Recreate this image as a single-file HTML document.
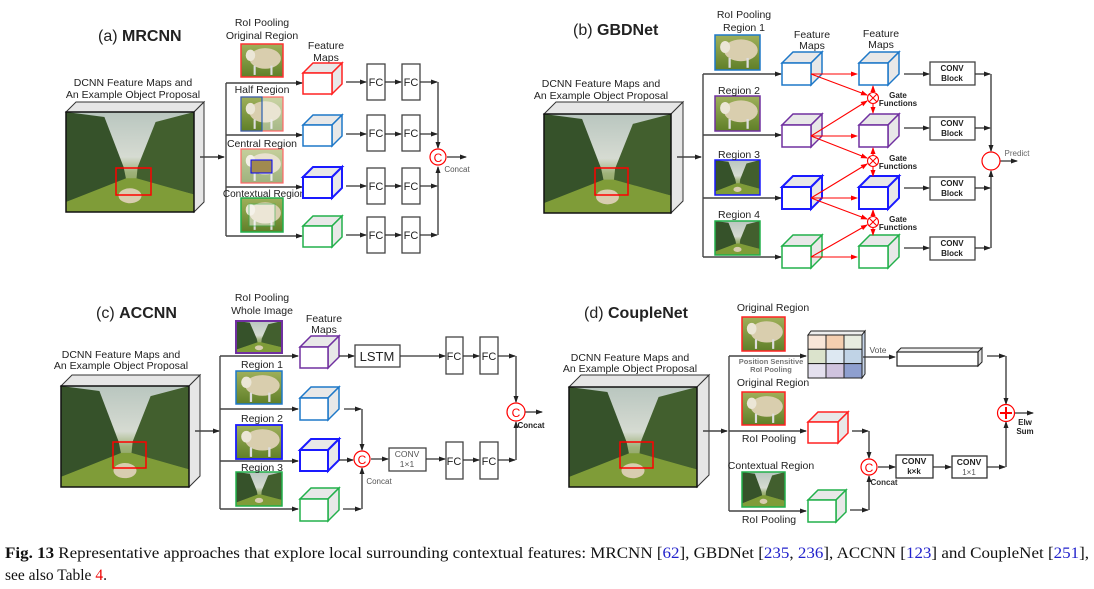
<!DOCTYPE html>
<html><head><meta charset="utf-8"><style>
html,body{margin:0;padding:0;background:#fff;width:1094px;height:589px;overflow:hidden}
svg{display:block;font-family:"Liberation Sans",sans-serif}
</style></head><body>
<svg width="1094" height="589" viewBox="0 0 1094 589" xmlns="http://www.w3.org/2000/svg">
<defs>
<marker id="a" markerWidth="7" markerHeight="7" refX="6" refY="3.5" orient="auto" markerUnits="userSpaceOnUse"><path d="M0,1 L7,3.5 L0,6z" fill="#222"/></marker>
<marker id="r" markerWidth="7" markerHeight="7" refX="6" refY="3.5" orient="auto" markerUnits="userSpaceOnUse"><path d="M0,1 L7,3.5 L0,6z" fill="#f00"/></marker>
<linearGradient id="sky" x1="0" y1="0" x2="0" y2="1"><stop offset="0" stop-color="#b9c6bf"/><stop offset="0.45" stop-color="#d6dbd2"/><stop offset="0.6" stop-color="#9fb27a"/><stop offset="1" stop-color="#6a8a2c"/></linearGradient>
<linearGradient id="gr" x1="0" y1="0" x2="0" y2="1"><stop offset="0" stop-color="#9fb05a"/><stop offset="1" stop-color="#5f7f28"/></linearGradient>
<symbol id="field" viewBox="0 0 100 80" preserveAspectRatio="none">
<rect width="100" height="80" fill="url(#sky)"/>
<polygon points="0,0 30,4 45,44 47,54 0,72" fill="#36522a"/>
<polygon points="100,0 70,8 56,44 55,54 100,66" fill="#425f2e"/>
<polygon points="0,72 47,53 55,53 100,66 100,80 0,80" fill="#7f9c38"/>
<ellipse cx="50" cy="67" rx="9" ry="6" fill="#d8cdb0"/>
</symbol>
<symbol id="sheep" viewBox="0 0 40 32" preserveAspectRatio="none">
<rect width="40" height="32" fill="url(#gr)"/>
<ellipse cx="23" cy="14" rx="15" ry="10" fill="#d9ceae"/>
<ellipse cx="9" cy="11" rx="4.5" ry="5.5" fill="#ebe6d6"/>
<rect x="12" y="21" width="2" height="9" fill="#ddd"/><rect x="28" y="21" width="2" height="9" fill="#ddd"/>
</symbol>
</defs>

<g font-size="10.5" fill="#222" text-anchor="middle">
<!-- ===== (a) ===== -->
<text x="98" y="41" text-anchor="start" font-size="16"><tspan>(a) </tspan><tspan font-weight="bold">MRCNN</tspan></text>
<text x="133" y="86">DCNN Feature Maps and</text>
<text x="133" y="98">An Example Object Proposal</text>
<polygon points="66,112 76,102 204,102 194,112" fill="#e6e6e6" stroke="#333"/>
<polygon points="194,112 204,102 204,202 194,212" fill="#e6e6e6" stroke="#333"/>
<use href="#field" x="66" y="112" width="128" height="100"/>
<rect x="66" y="112" width="128" height="100" fill="none" stroke="#111" stroke-width="1.5"/>
<rect x="116" y="168" width="35" height="27" fill="none" stroke="#f00" stroke-width="1.5"/>
<g stroke="#444" stroke-width="1.4" fill="none">
<line x1="200" y1="157" x2="224" y2="157" marker-end="url(#a)"/>
<line x1="226" y1="83" x2="226" y2="236"/>
<line x1="226" y1="83" x2="302" y2="83" marker-end="url(#a)"/>
<line x1="226" y1="135" x2="302" y2="135" marker-end="url(#a)"/>
<line x1="226" y1="187" x2="302" y2="187" marker-end="url(#a)"/>
<line x1="226" y1="236" x2="302" y2="236" marker-end="url(#a)"/>
</g>
<use href="#sheep" x="241" y="44" width="42" height="33"/><rect x="241" y="44" width="42" height="33" fill="none" stroke="#f33" stroke-width="1.5"/>
<use href="#sheep" x="241" y="97" width="42" height="34"/><rect x="262" y="97" width="21" height="34" fill="#fff" opacity="0.45"/><rect x="241" y="97" width="42" height="34" fill="none" stroke="#f66" stroke-width="1.2"/><rect x="241" y="97" width="21" height="34" fill="none" stroke="#2a5fb0" stroke-width="1.2"/>
<use href="#sheep" x="241" y="149" width="42" height="34"/><rect x="241" y="149" width="42" height="34" fill="#fff" opacity="0.4"/><rect x="251" y="160" width="21" height="13" fill="#a08a50" stroke="#00f" stroke-width="1"/><rect x="241" y="149" width="42" height="34" fill="none" stroke="#f66" stroke-width="1.2"/>
<use href="#sheep" x="241" y="198" width="42" height="34"/><rect x="249" y="204" width="26" height="22" fill="#fff" opacity="0.5" stroke="#22b04b"/><rect x="241" y="198" width="42" height="34" fill="none" stroke="#22b04b" stroke-width="1.5"/>
<text x="262" y="26">RoI Pooling</text>
<text x="262" y="39">Original Region</text>
<text x="262" y="93">Half Region</text>
<text x="262" y="147">Central Region</text>
<text x="264" y="197" font-size="10">Contextual Region</text>
<text x="326" y="49">Feature</text><text x="326" y="61">Maps</text>
<g fill="#e8e8e8" stroke-width="1.5">
<g stroke="#f22"><polygon points="303,73 313,63 342,63 332,73"/><polygon points="332,73 342,63 342,84 332,94"/><rect x="303" y="73" width="29" height="21" fill="#fff"/></g>
<g stroke="#1e78c8"><polygon points="303,125 313,115 342,115 332,125"/><polygon points="332,125 342,115 342,136 332,146"/><rect x="303" y="125" width="29" height="21" fill="#fff"/></g>
<g stroke="#1a1aff" stroke-width="2"><polygon points="303,177 313,167 342,167 332,177"/><polygon points="332,177 342,167 342,188 332,198"/><rect x="303" y="177" width="29" height="21" fill="#fff"/></g>
<g stroke="#22b04b"><polygon points="303,226 313,216 342,216 332,226"/><polygon points="332,226 342,216 342,237 332,247"/><rect x="303" y="226" width="29" height="21" fill="#fff"/></g>
</g>
<g fill="#fff" stroke="#444" stroke-width="1.3">
<rect x="367" y="64" width="18" height="36"/><rect x="402" y="64" width="18" height="36"/>
<rect x="367" y="115" width="18" height="36"/><rect x="402" y="115" width="18" height="36"/>
<rect x="367" y="168" width="18" height="36"/><rect x="402" y="168" width="18" height="36"/>
<rect x="367" y="217" width="18" height="36"/><rect x="402" y="217" width="18" height="36"/>
</g>
<g font-size="11">
<text x="376" y="86">FC</text><text x="411" y="86">FC</text>
<text x="376" y="137">FC</text><text x="411" y="137">FC</text>
<text x="376" y="190">FC</text><text x="411" y="190">FC</text>
<text x="376" y="239">FC</text><text x="411" y="239">FC</text>
</g>
<g stroke="#333" stroke-width="1.3" fill="none">
<line x1="346" y1="82" x2="366" y2="82" marker-end="url(#a)"/><line x1="385" y1="82" x2="401" y2="82" marker-end="url(#a)"/><line x1="420" y1="82" x2="437" y2="82" marker-end="url(#a)"/>
<line x1="346" y1="134" x2="366" y2="134" marker-end="url(#a)"/><line x1="385" y1="134" x2="401" y2="134" marker-end="url(#a)"/><line x1="420" y1="134" x2="437" y2="134" marker-end="url(#a)"/>
<line x1="346" y1="186" x2="366" y2="186" marker-end="url(#a)"/><line x1="385" y1="186" x2="401" y2="186" marker-end="url(#a)"/><line x1="420" y1="186" x2="437" y2="186" marker-end="url(#a)"/>
<line x1="346" y1="235" x2="366" y2="235" marker-end="url(#a)"/><line x1="385" y1="235" x2="401" y2="235" marker-end="url(#a)"/><line x1="420" y1="235" x2="437" y2="235" marker-end="url(#a)"/>
<line x1="438" y1="82" x2="438" y2="148" marker-end="url(#a)"/><line x1="438" y1="235" x2="438" y2="167" marker-end="url(#a)"/>
<line x1="447" y1="157" x2="466" y2="157" marker-end="url(#a)"/>
</g>
<circle cx="438" cy="157" r="8" fill="#fff" stroke="#f00" stroke-width="1.2"/><text x="438" y="162" fill="#f00" font-size="12">C</text>
<text x="457" y="172" font-size="8" fill="#555">Concat</text>

<!-- ===== (b) ===== -->
<text x="573" y="35" text-anchor="start" font-size="16"><tspan>(b) </tspan><tspan font-weight="bold">GBDNet</tspan></text>
<text x="601" y="87">DCNN Feature Maps and</text>
<text x="601" y="99">An Example Object Proposal</text>
<polygon points="544,114 556,102 683,102 671,114" fill="#e6e6e6" stroke="#333"/>
<polygon points="671,114 683,102 683,201 671,213" fill="#e6e6e6" stroke="#333"/>
<use href="#field" x="544" y="114" width="127" height="99"/>
<rect x="544" y="114" width="127" height="99" fill="none" stroke="#111" stroke-width="1.5"/>
<rect x="595" y="168" width="33" height="27" fill="none" stroke="#f00" stroke-width="1.5"/>
<g stroke="#444" stroke-width="1.4" fill="none">
<line x1="677" y1="157" x2="701" y2="157" marker-end="url(#a)"/>
<line x1="703" y1="74" x2="703" y2="257"/>
<line x1="703" y1="74" x2="781" y2="74" marker-end="url(#a)"/>
<line x1="703" y1="135" x2="781" y2="135" marker-end="url(#a)"/>
<line x1="703" y1="198" x2="781" y2="198" marker-end="url(#a)"/>
<line x1="703" y1="257" x2="781" y2="257" marker-end="url(#a)"/>
</g>
<use href="#sheep" x="715" y="35" width="45" height="35"/><rect x="715" y="35" width="45" height="35" fill="none" stroke="#1e78c8" stroke-width="1.5"/>
<use href="#sheep" x="715" y="96" width="45" height="35"/><rect x="715" y="96" width="45" height="35" fill="none" stroke="#7030a0" stroke-width="1.5"/>
<use href="#field" x="715" y="160" width="45" height="35"/><rect x="715" y="160" width="45" height="35" fill="none" stroke="#1a1aff" stroke-width="1.5"/>
<use href="#field" x="715" y="221" width="45" height="34"/><rect x="715" y="221" width="45" height="34" fill="none" stroke="#22b04b" stroke-width="1.5"/>
<text x="744" y="18">RoI Pooling</text>
<text x="744" y="31">Region 1</text>
<text x="739" y="94">Region 2</text>
<text x="739" y="158">Region 3</text>
<text x="739" y="218">Region 4</text>
<text x="812" y="38">Feature</text><text x="812" y="49">Maps</text>
<text x="881" y="37">Feature</text><text x="881" y="48">Maps</text>
<g fill="#e8e8e8" stroke-width="1.5">
<g stroke="#1e78c8"><polygon points="782,63 793,52 822,52 811,63"/><polygon points="811,63 822,52 822,74 811,85"/><rect x="782" y="63" width="29" height="22" fill="#fff"/>
<polygon points="859,63 870,52 899,52 888,63"/><polygon points="888,63 899,52 899,74 888,85"/><rect x="859" y="63" width="29" height="22" fill="#fff"/></g>
<g stroke="#7030a0"><polygon points="782,125 793,114 822,114 811,125"/><polygon points="811,125 822,114 822,136 811,147"/><rect x="782" y="125" width="29" height="22" fill="#fff"/>
<polygon points="859,125 870,114 899,114 888,125"/><polygon points="888,125 899,114 899,136 888,147"/><rect x="859" y="125" width="29" height="22" fill="#fff"/></g>
<g stroke="#1a1aff" stroke-width="2"><polygon points="782,187 793,176 822,176 811,187"/><polygon points="811,187 822,176 822,198 811,209"/><rect x="782" y="187" width="29" height="22" fill="#fff"/>
<polygon points="859,187 870,176 899,176 888,187"/><polygon points="888,187 899,176 899,198 888,209"/><rect x="859" y="187" width="29" height="22" fill="#fff"/></g>
<g stroke="#22b04b"><polygon points="782,246 793,235 822,235 811,246"/><polygon points="811,246 822,235 822,257 811,268"/><rect x="782" y="246" width="29" height="22" fill="#fff"/>
<polygon points="859,246 870,235 899,235 888,246"/><polygon points="888,246 899,235 899,257 888,268"/><rect x="859" y="246" width="29" height="22" fill="#fff"/></g>
</g>
<g stroke="#f00" stroke-width="1.1" fill="none">
<line x1="811" y1="74" x2="857" y2="74" marker-end="url(#r)"/><line x1="811" y1="74" x2="867" y2="95" marker-end="url(#r)"/>
<line x1="811" y1="136" x2="867" y2="101" marker-end="url(#r)"/><line x1="811" y1="136" x2="857" y2="136" marker-end="url(#r)"/><line x1="811" y1="136" x2="867" y2="158" marker-end="url(#r)"/>
<line x1="811" y1="198" x2="867" y2="164" marker-end="url(#r)"/><line x1="811" y1="198" x2="857" y2="198" marker-end="url(#r)"/><line x1="811" y1="198" x2="867" y2="219" marker-end="url(#r)"/>
<line x1="811" y1="257" x2="867" y2="225" marker-end="url(#r)"/><line x1="811" y1="257" x2="857" y2="257" marker-end="url(#r)"/>
<line x1="873" y1="92" x2="873" y2="86" marker-end="url(#r)"/><line x1="873" y1="104" x2="873" y2="113" marker-end="url(#r)"/>
<line x1="873" y1="155" x2="873" y2="148" marker-end="url(#r)"/><line x1="873" y1="167" x2="873" y2="176" marker-end="url(#r)"/>
<line x1="873" y1="216" x2="873" y2="210" marker-end="url(#r)"/><line x1="873" y1="228" x2="873" y2="235" marker-end="url(#r)"/>
<circle cx="873" cy="98" r="5.5" fill="#fff"/><path d="M869,94 L877,102 M877,94 L869,102"/>
<circle cx="873" cy="161" r="5.5" fill="#fff"/><path d="M869,157 L877,165 M877,157 L869,165"/>
<circle cx="873" cy="222" r="5.5" fill="#fff"/><path d="M869,218 L877,226 M877,218 L869,226"/>
</g>
<g font-size="8" font-weight="bold">
<text x="898" y="98">Gate</text><text x="898" y="106">Functions</text>
<text x="898" y="161">Gate</text><text x="898" y="169">Functions</text>
<text x="898" y="222">Gate</text><text x="898" y="230">Functions</text>
</g>
<g fill="#fff" stroke="#444" stroke-width="1.3">
<rect x="930" y="62" width="45" height="23"/><rect x="930" y="117" width="45" height="23"/><rect x="930" y="177" width="45" height="23"/><rect x="930" y="237" width="45" height="23"/>
</g>
<g font-size="8" font-weight="bold">
<text x="952" y="71">CONV</text><text x="952" y="81">Block</text>
<text x="952" y="126">CONV</text><text x="952" y="136">Block</text>
<text x="952" y="186">CONV</text><text x="952" y="196">Block</text>
<text x="952" y="246">CONV</text><text x="952" y="256">Block</text>
</g>
<g stroke="#333" stroke-width="1.3" fill="none">
<line x1="904" y1="74" x2="929" y2="74" marker-end="url(#a)"/><line x1="975" y1="74" x2="990" y2="74" marker-end="url(#a)"/>
<line x1="904" y1="128" x2="929" y2="128" marker-end="url(#a)"/><line x1="975" y1="128" x2="990" y2="128" marker-end="url(#a)"/>
<line x1="904" y1="188" x2="929" y2="188" marker-end="url(#a)"/><line x1="975" y1="188" x2="990" y2="188" marker-end="url(#a)"/>
<line x1="904" y1="248" x2="929" y2="248" marker-end="url(#a)"/><line x1="975" y1="248" x2="990" y2="248" marker-end="url(#a)"/>
<line x1="991" y1="74" x2="991" y2="151" marker-end="url(#a)"/><line x1="991" y1="248" x2="991" y2="171" marker-end="url(#a)"/>
<line x1="1000" y1="161" x2="1017" y2="161" marker-end="url(#a)"/>
</g>
<circle cx="991" cy="161" r="9" fill="#fff" stroke="#f00" stroke-width="1.2"/>
<text x="1017" y="156" font-size="8" fill="#666">Predict</text>

<!-- ===== (c) ===== -->
<text x="96" y="318" text-anchor="start" font-size="16"><tspan>(c) </tspan><tspan font-weight="bold">ACCNN</tspan></text>
<text x="121" y="358">DCNN Feature Maps and</text>
<text x="121" y="369">An Example Object Proposal</text>
<polygon points="61,386 72,375 200,375 189,386" fill="#e6e6e6" stroke="#333"/>
<polygon points="189,386 200,375 200,476 189,487" fill="#e6e6e6" stroke="#333"/>
<use href="#field" x="61" y="386" width="128" height="101"/>
<rect x="61" y="386" width="128" height="101" fill="none" stroke="#111" stroke-width="1.5"/>
<rect x="113" y="442" width="33" height="26" fill="none" stroke="#f00" stroke-width="1.5"/>
<g stroke="#444" stroke-width="1.4" fill="none">
<line x1="195" y1="431" x2="219" y2="431" marker-end="url(#a)"/>
<line x1="220" y1="356" x2="220" y2="509"/>
<line x1="220" y1="356" x2="298" y2="356" marker-end="url(#a)"/>
<line x1="220" y1="409" x2="298" y2="409" marker-end="url(#a)"/>
<line x1="220" y1="461" x2="298" y2="461" marker-end="url(#a)"/>
<line x1="220" y1="509" x2="298" y2="509" marker-end="url(#a)"/>
</g>
<use href="#field" x="236" y="321" width="46" height="32"/><rect x="236" y="321" width="46" height="32" fill="none" stroke="#7030a0" stroke-width="2"/>
<use href="#sheep" x="236" y="371" width="46" height="33"/><rect x="236" y="371" width="46" height="33" fill="none" stroke="#1e78c8" stroke-width="1.5"/>
<use href="#sheep" x="236" y="425" width="46" height="34"/><rect x="236" y="425" width="46" height="34" fill="none" stroke="#1a1aff" stroke-width="1.8"/>
<use href="#field" x="236" y="472" width="46" height="34"/><rect x="236" y="472" width="46" height="34" fill="none" stroke="#22b04b" stroke-width="1.5"/>
<text x="262" y="301">RoI Pooling</text>
<text x="262" y="314">Whole Image</text>
<text x="262" y="368">Region 1</text>
<text x="262" y="422">Region 2</text>
<text x="262" y="471">Region 3</text>
<text x="324" y="322">Feature</text><text x="324" y="333">Maps</text>
<g fill="#e8e8e8" stroke-width="1.5">
<g stroke="#7030a0"><polygon points="300,347 311,336 339,336 328,347"/><polygon points="328,347 339,336 339,357 328,368"/><rect x="300" y="347" width="28" height="21" fill="#fff"/></g>
<g stroke="#1e78c8"><polygon points="300,398 311,387 339,387 328,398"/><polygon points="328,398 339,387 339,409 328,420"/><rect x="300" y="398" width="28" height="22" fill="#fff"/></g>
<g stroke="#1a1aff" stroke-width="2"><polygon points="300,450 311,439 339,439 328,450"/><polygon points="328,450 339,439 339,460 328,471"/><rect x="300" y="450" width="28" height="21" fill="#fff"/></g>
<g stroke="#22b04b"><polygon points="300,499 311,488 339,488 328,499"/><polygon points="328,499 339,488 339,510 328,521"/><rect x="300" y="499" width="28" height="22" fill="#fff"/></g>
</g>
<g fill="#fff" stroke="#444" stroke-width="1.3">
<rect x="355" y="345" width="45" height="22"/>
<rect x="446" y="337" width="17" height="37"/><rect x="480" y="337" width="18" height="37"/>
<rect x="446" y="442" width="17" height="37"/><rect x="480" y="442" width="18" height="37"/>
<rect x="389" y="448" width="37" height="23"/>
</g>
<text x="377" y="361" font-size="13">LSTM</text>
<g font-size="11">
<text x="454" y="360">FC</text><text x="489" y="360">FC</text>
<text x="454" y="465">FC</text><text x="489" y="465">FC</text>
</g>
<text x="407" y="457" font-size="8.5" fill="#555">CONV</text><text x="407" y="467" font-size="8.5" fill="#555">1×1</text>
<g stroke="#333" stroke-width="1.3" fill="none">
<line x1="339" y1="356" x2="354" y2="356" marker-end="url(#a)"/>
<line x1="400" y1="356" x2="445" y2="356" marker-end="url(#a)"/>
<line x1="463" y1="356" x2="479" y2="356" marker-end="url(#a)"/>
<line x1="463" y1="460" x2="479" y2="460" marker-end="url(#a)"/>
<line x1="498" y1="356" x2="515" y2="356" marker-end="url(#a)"/>
<line x1="498" y1="460" x2="515" y2="460" marker-end="url(#a)"/>
<line x1="516" y1="356" x2="516" y2="402" marker-end="url(#a)"/>
<line x1="516" y1="460" x2="516" y2="422" marker-end="url(#a)"/>
<line x1="525" y1="412" x2="542" y2="412" marker-end="url(#a)"/>
<line x1="344" y1="409" x2="361" y2="409" marker-end="url(#a)"/>
<line x1="362" y1="409" x2="362" y2="450" marker-end="url(#a)"/>
<line x1="339" y1="460" x2="353" y2="460" marker-end="url(#a)"/>
<line x1="343" y1="509" x2="361" y2="509" marker-end="url(#a)"/>
<line x1="362" y1="509" x2="362" y2="468" marker-end="url(#a)"/>
<line x1="371" y1="459" x2="388" y2="459" marker-end="url(#a)"/>
<line x1="426" y1="459" x2="445" y2="459" marker-end="url(#a)"/>
</g>
<circle cx="362" cy="459" r="8" fill="#fff" stroke="#f00" stroke-width="1.2"/><text x="362" y="464" fill="#f00" font-size="12">C</text>
<text x="379" y="484" font-size="8" fill="#555">Concat</text>
<circle cx="516" cy="412" r="9" fill="#fff" stroke="#f00" stroke-width="1.2"/><text x="516" y="417" fill="#f00" font-size="12">C</text>
<text x="531" y="428" font-size="8" font-weight="bold">Concat</text>

<!-- ===== (d) ===== -->
<text x="584" y="318" text-anchor="start" font-size="16"><tspan>(d) </tspan><tspan font-weight="bold">CoupleNet</tspan></text>
<text x="630" y="361">DCNN Feature Maps and</text>
<text x="630" y="372">An Example Object Proposal</text>
<polygon points="569,387 581,375 709,375 697,387" fill="#e6e6e6" stroke="#333"/>
<polygon points="697,387 709,375 709,475 697,487" fill="#e6e6e6" stroke="#333"/>
<use href="#field" x="569" y="387" width="128" height="100"/>
<rect x="569" y="387" width="128" height="100" fill="none" stroke="#111" stroke-width="1.5"/>
<rect x="620" y="442" width="33" height="26" fill="none" stroke="#f00" stroke-width="1.5"/>
<g stroke="#444" stroke-width="1.4" fill="none">
<line x1="703" y1="431" x2="727" y2="431" marker-end="url(#a)"/>
<line x1="729" y1="356" x2="729" y2="511"/>
<line x1="729" y1="356" x2="806" y2="356" marker-end="url(#a)"/>
<line x1="729" y1="431" x2="806" y2="431" marker-end="url(#a)"/>
<line x1="729" y1="511" x2="806" y2="511" marker-end="url(#a)"/>
</g>
<use href="#sheep" x="742" y="317" width="43" height="34"/><rect x="742" y="317" width="43" height="34" fill="none" stroke="#f22" stroke-width="1.5"/>
<use href="#sheep" x="742" y="392" width="43" height="33"/><rect x="742" y="392" width="43" height="33" fill="none" stroke="#f22" stroke-width="1.5"/>
<use href="#field" x="742" y="472" width="43" height="35"/><rect x="742" y="472" width="43" height="35" fill="none" stroke="#22b04b" stroke-width="1.5"/>
<text x="773" y="311">Original Region</text>
<text x="773" y="386">Original Region</text>
<text x="771" y="469">Contextual Region</text>
<text x="769" y="442">RoI Pooling</text>
<text x="769" y="523">RoI Pooling</text>
<text x="771" y="364" font-size="7.5" font-weight="bold" fill="#777">Position Sensitive</text>
<text x="771" y="372" font-size="7.5" font-weight="bold" fill="#777">RoI Pooling</text>
<polygon points="808,335 811,331 865,331 862,335" fill="#eee" stroke="#222"/>
<polygon points="862,335 865,331 865,374 862,378" fill="#c8d6ea" stroke="#222"/>
<g stroke="#222" stroke-width="1">
<rect x="808" y="335" width="18" height="14.3" fill="#f8e6d8"/><rect x="826" y="335" width="18" height="14.3" fill="#f4cfb0"/><rect x="844" y="335" width="18" height="14.3" fill="#e8ece0"/>
<rect x="808" y="349.3" width="18" height="14.3" fill="#dbe3cc"/><rect x="826" y="349.3" width="18" height="14.3" fill="#dde8f2"/><rect x="844" y="349.3" width="18" height="14.3" fill="#c0d3e6"/>
<rect x="808" y="363.6" width="18" height="14.4" fill="#e4e0ee"/><rect x="826" y="363.6" width="18" height="14.4" fill="#cfc3de"/><rect x="844" y="363.6" width="18" height="14.4" fill="#8e9fcf"/>
</g>
<text x="878" y="353" font-size="8.5" fill="#555">Vote</text>
<polygon points="897,352 901,348 982,348 978,352" fill="#eee" stroke="#222"/>
<polygon points="978,352 982,348 982,362 978,366" fill="#ddd" stroke="#222"/>
<rect x="897" y="352" width="81" height="14" fill="#fff" stroke="#222" stroke-width="1.2"/>
<g fill="#e8e8e8" stroke-width="1.5">
<g stroke="#f22"><polygon points="808,422 818,412 848,412 838,422"/><polygon points="838,422 848,412 848,433 838,443"/><rect x="808" y="422" width="30" height="21" fill="#fff"/></g>
<g stroke="#22b04b"><polygon points="808,500 818,490 846,490 836,500"/><polygon points="836,500 846,490 846,512 836,522"/><rect x="808" y="500" width="28" height="22" fill="#fff"/></g>
</g>
<g fill="#fff" stroke="#333" stroke-width="1.3">
<rect x="896" y="455" width="37" height="23"/><rect x="952" y="456" width="35" height="22"/>
</g>
<text x="914" y="464" font-size="8.5" font-weight="bold">CONV</text><text x="914" y="474" font-size="8" font-weight="bold">k×k</text>
<text x="969" y="465" font-size="8.5" font-weight="bold">CONV</text><text x="969" y="475" font-size="8" fill="#555">1×1</text>
<g stroke="#333" stroke-width="1.3" fill="none">
<line x1="863" y1="357" x2="895" y2="357" marker-end="url(#a)"/>
<line x1="987" y1="356" x2="1005" y2="356" marker-end="url(#a)"/>
<line x1="1006" y1="356" x2="1006" y2="404" marker-end="url(#a)"/>
<line x1="852" y1="431" x2="868" y2="431" marker-end="url(#a)"/>
<line x1="869" y1="431" x2="869" y2="458" marker-end="url(#a)"/>
<line x1="850" y1="510" x2="868" y2="510" marker-end="url(#a)"/>
<line x1="869" y1="510" x2="869" y2="476" marker-end="url(#a)"/>
<line x1="878" y1="467" x2="895" y2="467" marker-end="url(#a)"/>
<line x1="933" y1="467" x2="951" y2="467" marker-end="url(#a)"/>
<line x1="987" y1="467" x2="1005" y2="467" marker-end="url(#a)"/>
<line x1="1006" y1="467" x2="1006" y2="422" marker-end="url(#a)"/>
<line x1="1015" y1="413" x2="1033" y2="413" marker-end="url(#a)"/>
</g>
<circle cx="869" cy="467" r="8" fill="#fff" stroke="#f00" stroke-width="1.2"/><text x="869" y="472" fill="#f00" font-size="12">C</text>
<text x="884" y="485" font-size="8" font-weight="bold" fill="#333">Concat</text>
<circle cx="1006" cy="413" r="8.5" fill="#fff" stroke="#f00" stroke-width="1.2"/>
<path d="M1000,413 L1012,413 M1006,407 L1006,419" stroke="#f00" stroke-width="2"/>
<text x="1025" y="425" font-size="8" font-weight="bold">Elw</text><text x="1025" y="434" font-size="8" font-weight="bold">Sum</text>
</g>

<g font-family="'Liberation Serif',serif" font-size="15.5" fill="#111">
<text x="5" y="558" textLength="1084" lengthAdjust="spacingAndGlyphs"><tspan font-weight="bold">Fig. 13</tspan> Representative approaches that explore local surrounding contextual features: MRCNN [<tspan fill="#22c">62</tspan>], GBDNet [<tspan fill="#22c">235</tspan>, <tspan fill="#22c">236</tspan>], ACCNN [<tspan fill="#22c">123</tspan>] and CoupleNet [<tspan fill="#22c">251</tspan>],</text>
<text x="5" y="580">see also Table <tspan fill="#e00">4</tspan>.</text>
</g>
</svg>
</body></html>
